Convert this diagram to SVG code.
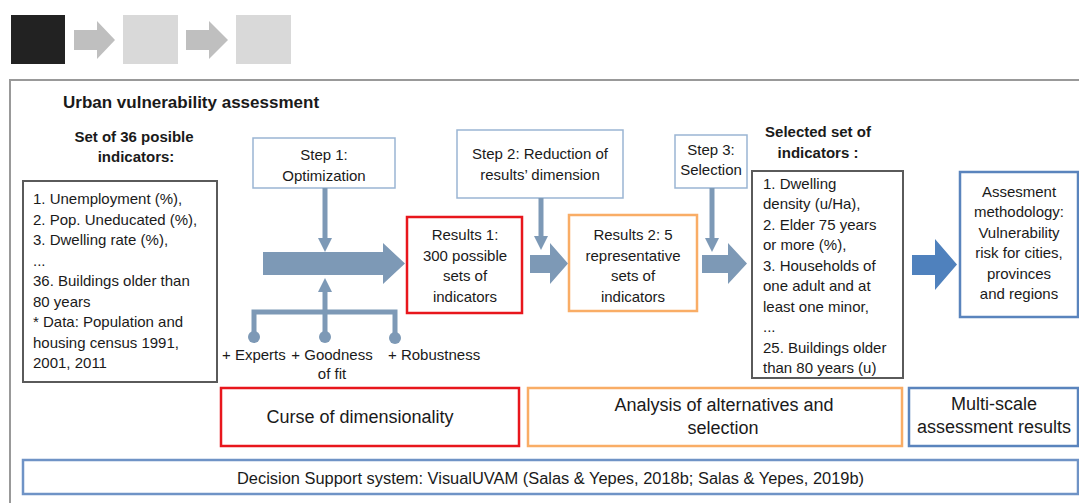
<svg xmlns="http://www.w3.org/2000/svg" width="1079" height="503" viewBox="0 0 1079 503">
<style>
text{font-family:"Liberation Sans",Arial,sans-serif;fill:#1a1a1a;}
.t{font-size:15px;}
.c{text-anchor:middle;}
.b{font-weight:bold;font-size:15px;}
.L{font-size:18px;}
.step{fill:#fff;stroke:#9ab5d3;stroke-width:1.5;}
.red{fill:#fff;stroke:#e8161c;stroke-width:2.5;}
.org{fill:#fff;stroke:#f9ad66;stroke-width:2.5;}
.blu{fill:#fff;stroke:#5a84bd;stroke-width:2.5;}
.gry{fill:#fff;stroke:#5a5a5a;stroke-width:2;}
.arr{fill:#7d99b6;}
.ln{stroke:#7d99b6;stroke-width:5;fill:none;}
</style>
<g id="header">
<rect x="11" y="15" width="54" height="49" fill="#222"/>
<polygon points="74,30 97,30 97,21 115,40 97,59 97,50 74,50" fill="#bfbfbf"/>
<rect x="123" y="15" width="55" height="49" fill="#d9d9d9"/>
<polygon points="186,30 209,30 209,21 228,40 209,59 209,50 186,50" fill="#bfbfbf"/>
<rect x="236" y="15" width="55" height="49" fill="#d9d9d9"/>
<path d="M1079,80 H10 V503" fill="none" stroke="#999" stroke-width="2"/>
</g>
<text x="63" y="108" font-weight="bold" font-size="17">Urban vulnerability assessment</text>
<g id="set36">
<text class="b c" x="134" y="142">Set of 36 posible</text>
<text class="b c" x="136" y="162">indicators:</text>
<rect class="gry" x="23" y="181" width="194" height="201"/>
<text class="t" x="33" y="204">1. Unemployment (%),</text>
<text class="t" x="33" y="225">2. Pop. Uneducated (%),</text>
<text class="t" x="33" y="245">3. Dwelling rate (%),</text>
<text class="t" x="33" y="266">...</text>
<text class="t" x="33" y="286">36. Buildings older than</text>
<text class="t" x="33" y="307">80 years</text>
<text class="t" x="33" y="327">* Data: Population and</text>
<text class="t" x="33" y="348">housing census 1991,</text>
<text class="t" x="33" y="368">2001, 2011</text>
</g>
<g id="step1">
<rect class="step" x="253" y="138" width="142" height="50"/>
<text class="t c" x="324" y="160">Step 1:</text>
<text class="t c" x="324" y="181">Optimization</text>
</g>
<g id="step2">
<rect class="step" x="457" y="130" width="166" height="68"/>
<text class="t c" x="540" y="159">Step 2: Reduction of</text>
<text class="t c" x="540" y="180">results’ dimension</text>
</g>
<g id="step3">
<rect class="step" x="675" y="135" width="72" height="53"/>
<text class="t c" x="711" y="155">Step 3:</text>
<text class="t c" x="711" y="175">Selection</text>
</g>
<g id="results1">
<rect class="red" x="407" y="217" width="115" height="96"/>
<text class="t c" x="465" y="240">Results 1:</text>
<text class="t c" x="465" y="261">300 possible</text>
<text class="t c" x="465" y="281">sets of</text>
<text class="t c" x="465" y="302">indicators</text>
</g>
<g id="results2">
<rect class="org" x="569" y="215" width="128" height="96"/>
<text class="t c" x="633" y="240">Results 2: 5</text>
<text class="t c" x="633" y="261">representative</text>
<text class="t c" x="633" y="281">sets of</text>
<text class="t c" x="633" y="302">indicators</text>
</g>
<g id="selected">
<text class="b c" x="818" y="137">Selected set of</text>
<text class="b c" x="818" y="158">indicators :</text>
<rect class="gry" x="752" y="171" width="151" height="207"/>
<text class="t" x="763" y="189">1. Dwelling</text>
<text class="t" x="763" y="209">density (u/Ha),</text>
<text class="t" x="763" y="230">2. Elder 75 years</text>
<text class="t" x="763" y="250">or more (%),</text>
<text class="t" x="763" y="271">3. Households of</text>
<text class="t" x="763" y="291">one adult and at</text>
<text class="t" x="763" y="312">least one minor,</text>
<text class="t" x="763" y="332">...</text>
<text class="t" x="763" y="353">25. Buildings older</text>
<text class="t" x="763" y="373">than 80 years (u)</text>
</g>
<g id="assessment">
<rect class="blu" x="960" y="172" width="118" height="145"/>
<text class="t c" x="1019" y="197">Assesment</text>
<text class="t c" x="1019" y="217">methodology:</text>
<text class="t c" x="1019" y="238">Vulnerability</text>
<text class="t c" x="1019" y="258">risk for cities,</text>
<text class="t c" x="1019" y="279">provinces</text>
<text class="t c" x="1019" y="299">and regions</text>
</g>
<g id="criteria">
<text class="t" x="222" y="360">+ Experts</text>
<text class="t c" x="332" y="360">+ Goodness</text>
<text class="t c" x="332" y="379">of fit</text>
<text class="t" x="388" y="360">+ Robustness</text>
</g>
<g id="curse">
<rect class="red" x="221" y="388" width="298" height="58"/>
<text class="c L" x="360" y="423">Curse of dimensionality</text>
</g>
<g id="analysis">
<rect class="org" x="528" y="388" width="374" height="58"/>
<text class="c L" x="724" y="411">Analysis of alternatives and</text>
<text class="c L" x="723" y="434">selection</text>
</g>
<g id="multiscale">
<rect class="blu" x="909" y="388" width="169" height="58"/>
<text class="c L" x="994" y="410">Multi-scale</text>
<text class="c L" x="994" y="433">assessment results</text>
</g>
<g id="dss">
<rect fill="#fff" stroke="#6f93c6" stroke-width="2.5" x="23" y="460" width="1055" height="34"/>
<text x="237" y="484" font-size="16" textLength="627" lengthAdjust="spacingAndGlyphs">Decision Support system: VisualUVAM (Salas &amp; Yepes, 2018b; Salas &amp; Yepes, 2019b)</text>
</g>
<g id="connectors">
<polygon class="arr" points="263,252 383,252 383,243 405,263.5 383,284 383,275 263,275"/>
<polygon class="arr" points="530,255 550,255 550,243 568,263.5 550,284 550,273 530,273"/>
<polygon class="arr" points="702,255 728,255 728,243 747,263.5 728,284 728,273 702,273"/>
<polygon fill="#4f81bd" points="912,255 935,255 935,239 957,264.5 935,290 935,275 912,275"/>
<line class="ln" x1="325" y1="188" x2="325" y2="239"/>
<polygon class="arr" points="318,238 332,238 325,252"/>
<line class="ln" x1="541" y1="198" x2="541" y2="237"/>
<polygon class="arr" points="534,236 548,236 541,250"/>
<line class="ln" x1="712" y1="188" x2="712" y2="239"/>
<polygon class="arr" points="705,238 719,238 712,252"/>
<polyline class="ln" points="254,337 254,312 395,312 395,337"/>
<line class="ln" x1="325" y1="337" x2="325" y2="290"/>
<polygon class="arr" points="318,292 332,292 325,278"/>
<circle class="arr" cx="254" cy="337" r="6"/>
<circle class="arr" cx="325" cy="337" r="6"/>
<circle class="arr" cx="395" cy="338" r="6"/>
</g>
</svg>
